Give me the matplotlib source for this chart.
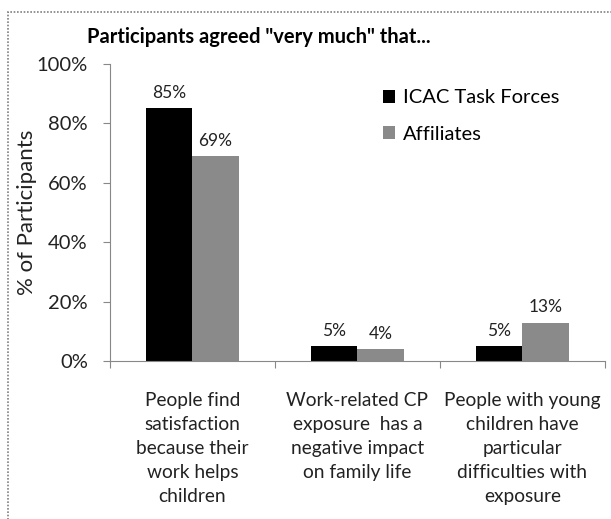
import numpy as np
import matplotlib.pyplot as plt
from matplotlib.patches import Rectangle

categories = [
    "People find\nsatisfaction\nbecause their\nwork helps\nchildren",
    "Work-related CP\nexposure  has a\nnegative impact\non family life",
    "People with young\nchildren have\nparticular\ndifficulties with\nexposure",
]
icac = [85, 5, 5]
affiliates = [69, 4, 13]
series_names = ["ICAC Task Forces", "Affiliates"]

plt.rcParams['font.family'] = ['Lato', 'DejaVu Sans']


def main():
    fig = plt.figure(figsize=(6.11, 5.19), dpi=100)
    ax = fig.add_axes([0.18, 0.304, 0.81, 0.573])

    # outer chart border (dotted, as in the scan)
    fig.patches.append(Rectangle((0.013, -0.05), 1.05, 1.027, transform=fig.transFigure,
                                 fill=False, edgecolor="#808080", linewidth=1.2,
                                 linestyle=(0, (1, 1))))

    x = np.arange(len(categories))
    w = 0.28
    b1 = ax.bar(x - w / 2, icac, w, color="black", label=series_names[0])
    b2 = ax.bar(x + w / 2, affiliates, w, color="#8a8a8a", label=series_names[1])

    for bars in (b1, b2):
        for r in bars:
            ax.text(r.get_x() + r.get_width() / 2, r.get_height() + 2.5,
                    "%d%%" % r.get_height(), ha="center", va="bottom",
                    fontsize=12.5, color="#222222")

    ax.set_ylim(0, 100)
    ax.set_xlim(-0.5, 2.5)
    ax.set_yticks(np.arange(0, 101, 20))
    ax.set_yticklabels(["%d%%" % v for v in range(0, 101, 20)], fontsize=14.5, color="#222222")
    ax.set_xticks([-0.5, 0.5, 1.5, 2.5])
    ax.set_xticklabels([])
    ax.set_xticks(x, minor=True)
    ax.set_xticklabels(categories, minor=True, fontsize=13.8, color="#222222",
                       linespacing=1.5, va="top")
    ax.tick_params(axis="x", which="minor", length=0, pad=22)
    ax.tick_params(axis="x", which="major", length=5, color="#888888")
    ax.tick_params(axis="y", length=5, color="#888888", pad=11)

    for s in ["top", "right"]:
        ax.spines[s].set_visible(False)
    for s in ["left", "bottom"]:
        ax.spines[s].set_color("#888888")
        ax.spines[s].set_linewidth(0.8)

    ax.set_ylabel("% of Participants", fontsize=16, color="#222222")
    ax.yaxis.set_label_coords(-0.148, 0.5)
    fig.text(0.423, 0.928, 'Participants agreed "very much" that...', ha="center",
             va="center", fontsize=14.5, fontweight="bold")

    ax.legend(loc="upper left", bbox_to_anchor=(0.515, 0.975), frameon=False,
              fontsize=14.5, handlelength=0.6, handleheight=0.6, handletextpad=0.4,
              labelspacing=0.95)

    plt.savefig("out.png", dpi=100)


if __name__ == "__main__":
    main()
